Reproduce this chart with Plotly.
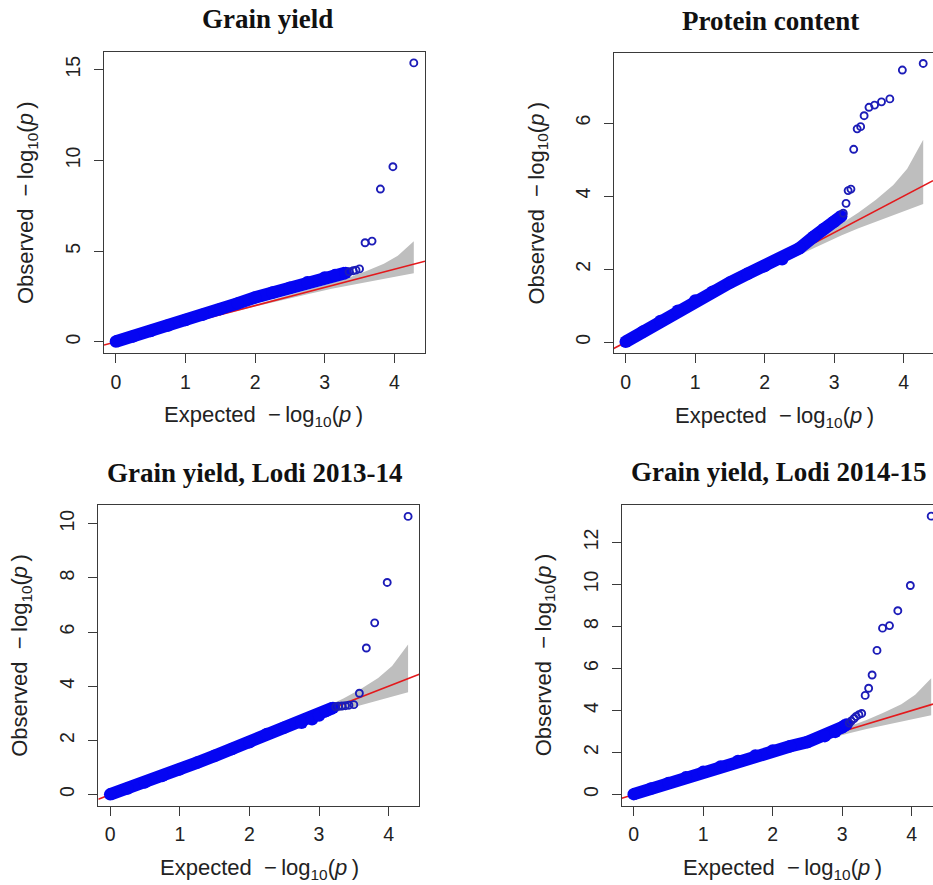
import plotly.graph_objects as go

W, H = 933, 885

# ---- data: expected vs observed -log10(p), read per panel ----
titles = ["Grain yield", "Protein content", "Grain yield, Lodi 2013-14", "Grain yield, Lodi 2014-15"]

# shared 95% confidence band of the null expectation
band_x = [0.0, 1.0, 2.0, 2.5, 2.8, 3.1, 3.35, 3.6, 3.85, 4.05, 4.28]
band_hi = [0.0, 1.02, 2.05, 2.6, 2.9, 3.24, 3.55, 3.9, 4.3, 4.75, 5.54]
band_lo = [0.0, 0.98, 1.95, 2.4, 2.66, 2.92, 3.12, 3.3, 3.48, 3.62, 3.78]

# dense body of the QQ cloud
p1_x = [0.0, 0.25, 0.5, 0.75, 1.0, 1.25, 1.5, 1.75, 2.0, 2.25, 2.5, 2.75, 3.0, 3.15, 3.3]
p1_y = [0.02, 0.3, 0.6, 0.9, 1.2, 1.5, 1.8, 2.12, 2.45, 2.72, 2.98, 3.28, 3.55, 3.68, 3.8]
p2_x = [0.0, 0.25, 0.5, 0.75, 1.0, 1.25, 1.5, 1.75, 2.0, 2.25, 2.5, 2.7, 2.85, 3.0, 3.1]
p2_y = [0.01, 0.29, 0.58, 0.86, 1.14, 1.38, 1.63, 1.87, 2.08, 2.27, 2.57, 2.88, 3.1, 3.3, 3.45]
p3_x = [0.0, 0.25, 0.5, 0.75, 1.0, 1.25, 1.5, 1.75, 2.0, 2.25, 2.5, 2.75, 2.9, 3.0, 3.1, 3.2]
p3_y = [0.01, 0.22, 0.45, 0.69, 0.93, 1.18, 1.43, 1.68, 1.93, 2.24, 2.47, 2.65, 2.78, 2.92, 3.08, 3.2]
p4_x = [0.0, 0.25, 0.5, 0.75, 1.0, 1.25, 1.5, 1.75, 2.0, 2.25, 2.5, 2.75, 2.9, 3.0, 3.06]
p4_y = [0.02, 0.29, 0.55, 0.82, 1.08, 1.34, 1.6, 1.86, 2.1, 2.3, 2.5, 2.78, 2.98, 3.2, 3.33]

# individually visible top SNPs
t1_x = [3.35, 3.41, 3.45, 3.50, 3.58, 3.68, 3.80, 3.98, 4.28]
t1_y = [3.86, 3.92, 3.95, 4.02, 5.46, 5.55, 8.42, 9.65, 15.37]
t2_x = [3.13, 3.17, 3.20, 3.24, 3.28, 3.33, 3.38, 3.43, 3.50, 3.58, 3.68, 3.80, 3.98, 4.28]
t2_y = [3.53, 3.80, 4.15, 4.19, 5.28, 5.84, 5.90, 6.20, 6.43, 6.49, 6.58, 6.66, 7.45, 7.63]
t3_x = [3.24, 3.28, 3.33, 3.38, 3.43, 3.50, 3.58, 3.68, 3.80, 3.98, 4.28]
t3_y = [3.24, 3.26, 3.27, 3.28, 3.30, 3.32, 3.74, 5.41, 6.34, 7.83, 10.27]
t4_x = [3.10, 3.13, 3.17, 3.20, 3.24, 3.28, 3.33, 3.38, 3.43, 3.50, 3.58, 3.68, 3.80, 3.98, 4.28]
t4_y = [3.40, 3.50, 3.62, 3.72, 3.80, 3.86, 4.72, 5.06, 5.69, 6.86, 7.92, 8.04, 8.75, 9.95, 13.25]

y_ticks = [[0, 5, 10, 15], [0, 2, 4, 6], [0, 2, 4, 6, 8, 10], [0, 2, 4, 6, 8, 10, 12]]
x_ticks = [0, 1, 2, 3, 4]

# ---- layout geometry (pixels) ----
# plot boxes: left, top, right, bottom
boxes = [(104, 52, 425, 353), (613.7, 52.7, 933, 353.3),
         (98.3, 505, 419.3, 805.7), (621.7, 505, 933, 805.7)]
x_ranges = [[-0.171, 4.441], [-0.173, 4.421], [-0.171, 4.441], [-0.173, 4.306]]
y_ranges = [[-0.614, 15.97], [-0.305, 7.925], [-0.411, 10.69], [-0.53, 13.78]]
title_pos = [(267, 18.5), (770, 21), (254.5, 472.6), (779.3, 471.6)]
xlab_pos = [(263.7, 416), (774.3, 417), (259, 869), (782.2, 869)]
ylab_pos = [(26.5, 202.5), (537.5, 203), (21.5, 655.3), (545, 655.3)]

BLUE = "#0505f2"
RING = "#1c1cb8"
RED = "#e3191c"
GREY = "#bebebe"
AXC = "#3a3a3a"
SANS = "Liberation Sans, Arial, sans-serif"
SERIF = "Liberation Serif, Times New Roman, serif"


def px(x):
    return x / W


def py(y):
    return 1 - y / H


bodies = [(p1_x, p1_y), (p2_x, p2_y), (p3_x, p3_y), (p4_x, p4_y)]
tails = [(t1_x, t1_y), (t2_x, t2_y), (t3_x, t3_y), (t4_x, t4_y)]

fig = go.Figure()
layout = dict(width=W, height=H, margin=dict(l=0, r=0, t=0, b=0),
              paper_bgcolor="white", plot_bgcolor="white", showlegend=False)
annotations = []

for i in range(4):
    k = "" if i == 0 else str(i + 1)
    xa, ya = "x" + k, "y" + k
    left, top, right, bottom = boxes[i]
    right_panel = i in (1, 3)

    # confidence band polygon
    fig.add_trace(go.Scatter(
        x=band_x + band_x[::-1], y=band_hi + band_lo[::-1],
        fill="toself", fillcolor=GREY, line=dict(width=0), mode="lines",
        hoverinfo="skip", xaxis=xa, yaxis=ya))
    # y = x reference line across the plotting region
    xr = x_ranges[i]
    fig.add_trace(go.Scatter(
        x=xr, y=xr, mode="lines", line=dict(color=RED, width=1.6),
        hoverinfo="skip", xaxis=xa, yaxis=ya))
    # dense cloud of observed points
    bx, by = bodies[i]
    fig.add_trace(go.Scatter(
        x=bx, y=by, mode="lines+markers",
        line=dict(color=BLUE, width=12.5),
        marker=dict(color=BLUE, size=12.5),
        xaxis=xa, yaxis=ya))
    # sparse top hits as open circles
    tx, ty = tails[i]
    fig.add_trace(go.Scatter(
        x=tx, y=ty, mode="markers",
        marker=dict(symbol="circle-open", size=7, color=RING, line=dict(width=1.9, color=RING)),
        xaxis=xa, yaxis=ya))

    common = dict(showline=True, linecolor=AXC, linewidth=1.2, ticks="outside",
                  ticklen=9, tickwidth=1.2, tickcolor=AXC, showgrid=False,
                  zeroline=False, tickfont=dict(family=SANS, size=19.5, color="#222"))
    layout["xaxis" + k] = dict(
        common, domain=[px(left), min(px(right), 1.0)], range=x_ranges[i],
        tickvals=x_ticks, anchor=ya, mirror=True, ticklabelstandoff=2)
    layout["yaxis" + k] = dict(
        common, domain=[py(bottom), py(top)], range=y_ranges[i],
        tickvals=y_ticks[i], tickangle=-90, anchor=xa,
        mirror=not right_panel, ticklabelstandoff=6)

    tx_, ty_ = title_pos[i]
    annotations.append(dict(
        text="<b>%s</b>" % titles[i], x=px(tx_), y=py(ty_), xref="paper", yref="paper",
        xanchor="center", yanchor="middle", showarrow=False,
        font=dict(family=SERIF, size=27, color="#111")))
    lx, ly = xlab_pos[i]
    annotations.append(dict(
        text="Expected\u00a0\u00a0\u2212\u2009log<sub>10</sub>(<i>p</i>\u2009)",
        x=px(lx), y=py(ly), xref="paper", yref="paper",
        xanchor="center", yanchor="middle", showarrow=False,
        font=dict(family=SANS, size=22, color="#222")))
    vx, vy = ylab_pos[i]
    annotations.append(dict(
        text="Observed\u00a0\u00a0\u2212\u2009log<sub>10</sub>(<i>p</i>\u2009)",
        x=px(vx), y=py(vy), xref="paper", yref="paper", textangle=-90,
        xanchor="center", yanchor="middle", showarrow=False,
        font=dict(family=SANS, size=22, color="#222")))

layout["annotations"] = annotations
fig.update_layout(**layout)
fig.write_html("out.html")
